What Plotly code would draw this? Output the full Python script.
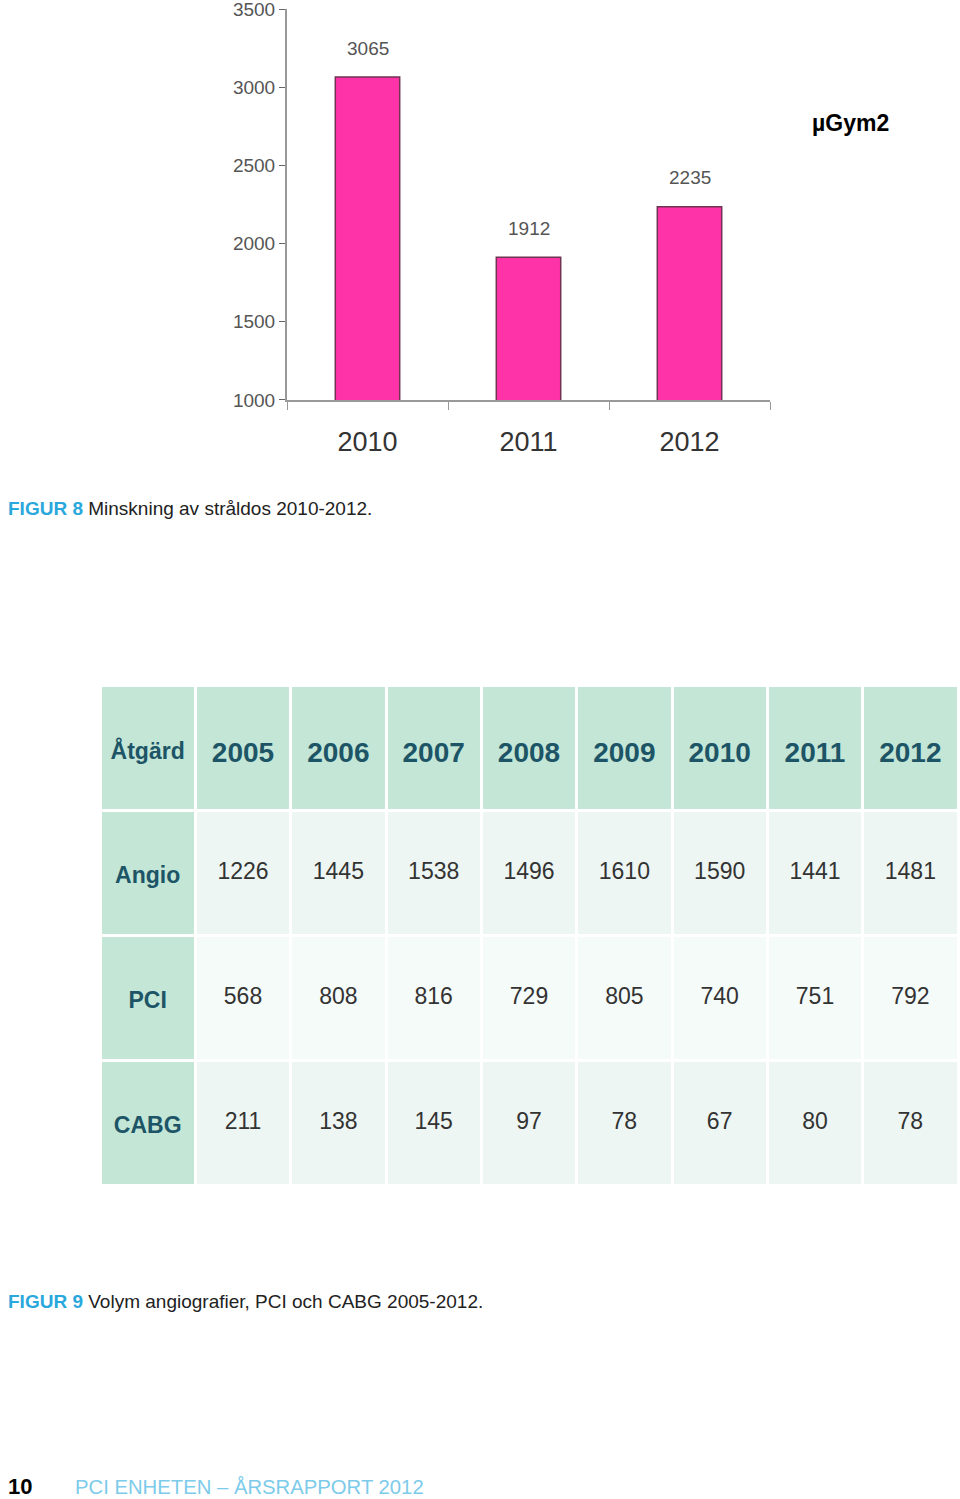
import plotly.graph_objects as go

# ---- Figure 8 data ----
dose_years = ["2010", "2011", "2012"]
dose_values = [3065, 1912, 2235]
y_ticks = [1000, 1500, 2000, 2500, 3000, 3500]

# ---- Figure 9 data ----
table_header = ["Åtgärd", "2005", "2006", "2007", "2008", "2009", "2010", "2011", "2012"]
procedures = ["Angio", "PCI", "CABG"]
angio = [1226, 1445, 1538, 1496, 1610, 1590, 1441, 1481]
pci = [568, 808, 816, 729, 805, 740, 751, 792]
cabg = [211, 138, 145, 97, 78, 67, 80, 78]

W, H = 960, 1499
def py(px):
    return 1 - px / H

FONT = "Liberation Sans, Arial"
fig = go.Figure()

fig.add_trace(go.Bar(
    x=dose_years, y=dose_values, width=0.4,
    marker=dict(color="#FF33A8", line=dict(color="#6e3452", width=1.5)),
    xaxis="x", yaxis="y", showlegend=False, hoverinfo="skip",
))
# value labels above the bars (category axis -> annotation x is the category index)
for i, yv in enumerate(dose_values):
    fig.add_annotation(x=i, y=yv, xref="x", yref="y", text=str(yv), showarrow=False,
                       yshift=29, font=dict(family=FONT, size=19, color="#555555"))

# table: fills (no text) + text layer shifted down to centre text vertically
ROW_H = 125
tbl_x = [100 / W, 958 / W]
n_years = len(angio)
cols = [["<b>%s</b>" % p for p in procedures]] + [[a, p, c] for a, p, c in zip(angio, pci, cabg)]
row_fill = ["#EDF6F2", "#F5FBF9", "#EDF6F2"]
fill = [["#C3E6D7"] * 3] + [row_fill] * n_years
empty_cols = [[""] * 3 for _ in range(n_years + 1)]

fig.add_trace(go.Table(
    domain=dict(x=tbl_x, y=[py(1185), py(685)]),
    columnwidth=[1] * (n_years + 1),
    header=dict(values=[""] * (n_years + 1), height=ROW_H, fill_color="#C3E6D7",
                line=dict(color="white", width=3)),
    cells=dict(values=empty_cols, height=ROW_H, fill_color=fill,
               line=dict(color="white", width=3)),
))
SHIFT = 44
fig.add_trace(go.Table(
    domain=dict(x=tbl_x, y=[py(1185 + SHIFT), py(685 + SHIFT)]),
    columnwidth=[1] * (n_years + 1),
    header=dict(values=["<b>%s</b>" % h for h in table_header], height=ROW_H,
                fill_color="rgba(0,0,0,0)", line=dict(color="rgba(0,0,0,0)", width=3), align="center",
                font=dict(family=FONT, size=[23] + [28] * n_years, color="#1D5566")),
    cells=dict(values=cols, height=ROW_H, fill_color="rgba(0,0,0,0)",
               line=dict(color="rgba(0,0,0,0)", width=3), align="center",
               font=dict(family=FONT, size=23,
                         color=[["#1D5566"] * 3] + [["#333333"] * 3] * n_years)),
))

fig.update_layout(
    width=W, height=H, margin=dict(l=0, r=0, t=0, b=0, autoexpand=False),
    paper_bgcolor="white", plot_bgcolor="white",
    xaxis=dict(type="category", domain=[287 / W, 770 / W], anchor="y", showline=True,
               linecolor="#999999", linewidth=2, automargin=False, tickangle=0,
               ticks="outside", tickson="boundaries", ticklen=8, tickcolor="#999999",
               ticklabelstandoff=17,
               tickfont=dict(family=FONT, size=27, color="#333333"),
               showgrid=False, fixedrange=True),
    yaxis=dict(domain=[py(400), py(9)], anchor="x", range=[999.5, 3500.5], tickvals=y_ticks,
               showline=True, linecolor="#999999", linewidth=2, ticks="outside", ticklen=6,
               tickcolor="#666666", showgrid=False, zeroline=False, automargin=False,
               ticklabeloverflow="allow",
               tickfont=dict(family=FONT, size=19, color="#555555")),
    font=dict(family=FONT),
)

fig.add_annotation(x=850 / W, y=py(123), xref="paper", yref="paper", text="<b>µGym2</b>",
                   showarrow=False, font=dict(size=23, color="black"), xanchor="center", yanchor="middle")
fig.add_annotation(x=6 / W, y=py(508), xref="paper", yref="paper",
                   text="<b><span style='color:#2AA8DC'>FIGUR 8</span></b> Minskning av stråldos 2010-2012.",
                   showarrow=False, font=dict(size=19, color="#222222"), xanchor="left", yanchor="middle")
fig.add_annotation(x=6 / W, y=py(1301), xref="paper", yref="paper",
                   text="<b><span style='color:#2AA8DC'>FIGUR 9</span></b> Volym angiografier, PCI och CABG 2005-2012.",
                   showarrow=False, font=dict(size=19, color="#222222"), xanchor="left", yanchor="middle")
fig.add_annotation(x=6 / W, y=py(1486), xref="paper", yref="paper", text="<b>10</b>",
                   showarrow=False, font=dict(size=22, color="black"), xanchor="left", yanchor="middle")
fig.add_annotation(x=73 / W, y=py(1487), xref="paper", yref="paper", text="PCI ENHETEN – ÅRSRAPPORT 2012",
                   showarrow=False, font=dict(size=20.3, color="#7DCBEA"), xanchor="left", yanchor="middle")

fig.write_html("out.html", config={"displayModeBar": False},
               post_script="document.body.style.margin='0px';document.body.style.overflow='hidden';")
